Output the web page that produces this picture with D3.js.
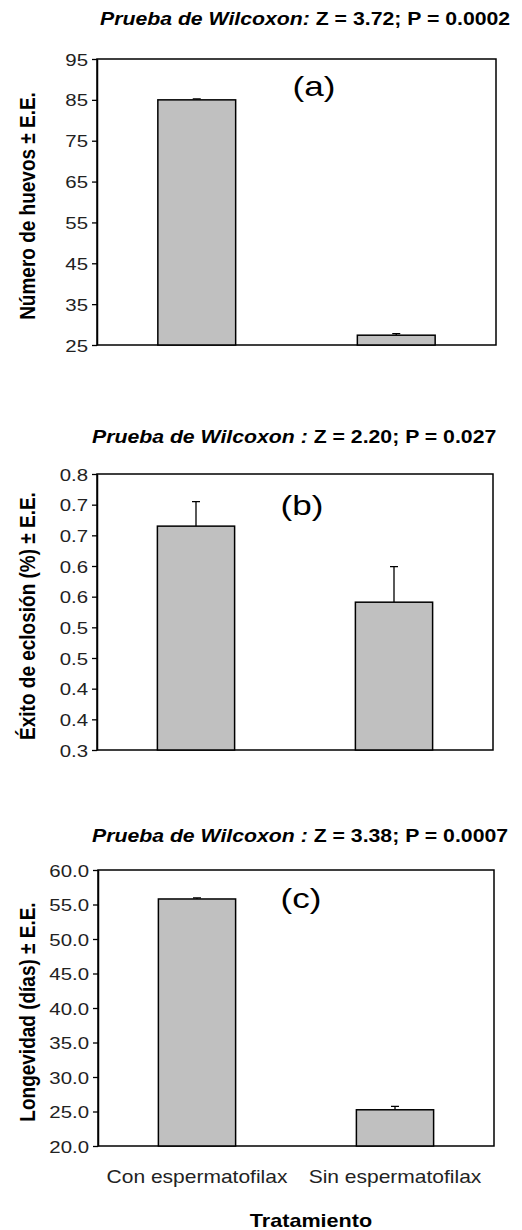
<!DOCTYPE html>
<html>
<head>
<meta charset="utf-8">
<script src="https://cdn.jsdelivr.net/npm/d3@7"></script>
<style>
  body { margin: 0; background: #fff; }
  svg { display: block; }
  text { font-family: "Liberation Sans", Arial, sans-serif; }
</style>
</head>
<body>
<svg id="chart" width="522" height="1230"></svg>
<script>
// data
const categories = ['Con espermatofilax', 'Sin espermatofilax'];

const huevosMean = [85.0, 27.4];
const huevosSE = [0.25, 0.4];
const huevosTicks = [25, 35, 45, 55, 65, 75, 85, 95];
const huevosTickLabels = ['25', '35', '45', '55', '65', '75', '85', '95'];

const eclosionMean = [0.665, 0.541];
const eclosionSE = [0.04, 0.058];
const eclosionTicks = [0.30, 0.35, 0.40, 0.45, 0.50, 0.55, 0.60, 0.65, 0.70, 0.75];
const eclosionTickLabels = ['0.3', '0.4', '0.4', '0.5', '0.5', '0.6', '0.6', '0.7', '0.7', '0.8'];

const longevidadMean = [55.8, 25.25];
const longevidadSE = [0.15, 0.5];
const longevidadTicks = [20, 25, 30, 35, 40, 45, 50, 55, 60];
const longevidadTickLabels = ['20.0', '25.0', '30.0', '35.0', '40.0', '45.0', '50.0', '55.0', '60.0'];

const SX = 1.2; // the original figure is a bit wider than tall

const svg = d3.select('#chart');

const panels = [
  {
    test: ['Prueba de Wilcoxon:', ' Z = 3.72; P = 0.0002'], titleX: 100, titleY: 25,
    tag: '(a)', tagX: 314, tagY: 96,
    ylabel: 'Número de huevos ± E.E.',
    mean: huevosMean, se: huevosSE, ticks: huevosTicks, tickLabels: huevosTickLabels,
    box: { left: 97, right: 496, top: 59, bottom: 345 }
  },
  {
    test: ['Prueba de Wilcoxon :', ' Z = 2.20; P = 0.027'], titleX: 92, titleY: 443,
    tag: '(b)', tagX: 302, tagY: 515,
    ylabel: 'Éxito de eclosión  (%) ± E.E.',
    mean: eclosionMean, se: eclosionSE, ticks: eclosionTicks, tickLabels: eclosionTickLabels,
    box: { left: 97, right: 493, top: 474, bottom: 750 }
  },
  {
    test: ['Prueba de Wilcoxon :', ' Z = 3.38; P = 0.0007'], titleX: 92, titleY: 842,
    tag: '(c)', tagX: 301, tagY: 908,
    ylabel: 'Longevidad (días) ± E.E.',
    mean: longevidadMean, se: longevidadSE, ticks: longevidadTicks, tickLabels: longevidadTickLabels,
    box: { left: 98, right: 494, top: 870, bottom: 1146 },
    showX: true
  }
];

const stretched = (g, x, y, str, size, weight, anchor) =>
  g.append('text')
    .attr('transform', `translate(${x},${y}) scale(${SX},1)`)
    .attr('text-anchor', anchor)
    .style('font-size', size + 'px')
    .style('font-weight', weight)
    .text(str);

panels.forEach(p => {
  const g = svg.append('g');
  const b = p.box;

  const x = d3.scaleBand()
    .domain(categories)
    .range([b.left, b.right])
    .paddingInner(0.61)
    .paddingOuter(0.305);

  const y = d3.scaleLinear()
    .domain([p.ticks[0], p.ticks[p.ticks.length - 1]])
    .range([b.bottom, b.top]);

  // title: italic name, upright statistics
  const t = g.append('text')
    .attr('transform', `translate(${p.titleX},${p.titleY}) scale(${SX},1)`)
    .style('font-size', '17.7px')
    .style('font-weight', 'bold');
  t.append('tspan').style('font-style', 'italic').text(p.test[0]);
  t.append('tspan').text(p.test[1]);

  // plot frame
  g.append('rect')
    .attr('x', b.left)
    .attr('y', b.top)
    .attr('width', b.right - b.left)
    .attr('height', b.bottom - b.top)
    .attr('fill', 'none')
    .attr('stroke', '#000')
    .attr('stroke-width', 1.5);

  // bars
  const rows = categories.map((c, i) => ({ c, m: p.mean[i], se: p.se[i] }));

  g.selectAll('.err')
    .data(rows)
    .join('path')
    .attr('class', 'err')
    .attr('fill', 'none')
    .attr('stroke', '#000')
    .attr('stroke-width', 1.3)
    .attr('d', d => {
      const cx = x(d.c) + x.bandwidth() / 2;
      return `M${cx},${y(d.m)}V${y(d.m + d.se)}M${cx - 4},${y(d.m + d.se)}H${cx + 4}`;
    });

  g.selectAll('.bar')
    .data(rows)
    .join('rect')
    .attr('class', 'bar')
    .attr('x', d => x(d.c))
    .attr('y', d => y(d.m))
    .attr('width', x.bandwidth())
    .attr('height', d => y(p.ticks[0]) - y(d.m))
    .attr('fill', '#c0c0c0')
    .attr('stroke', '#000')
    .attr('stroke-width', 1.5);

  // y axis
  const ya = g.append('g')
    .attr('transform', `translate(${b.left},0)`)
    .call(d3.axisLeft(y)
      .tickValues(p.ticks)
      .tickFormat((d, i) => p.tickLabels[i])
      .tickSize(5)
      .tickSizeOuter(0));
  ya.select('.domain').attr('stroke', '#000').attr('stroke-width', 1.5);
  ya.selectAll('.tick line').attr('stroke', '#000').attr('stroke-width', 1.3);
  ya.selectAll('.tick text')
    .attr('x', 0)
    .attr('dy', null)
    .attr('transform', `translate(-9,6) scale(${SX},1)`)
    .attr('fill', '#222')
    .style('font-size', '17px')
    .style('font-family', '"Liberation Sans", Arial, sans-serif');

  // y label
  g.append('text')
    .attr('transform', `translate(35,${(b.top + b.bottom) / 2 + 4}) rotate(-90) scale(1,1.12)`)
    .attr('text-anchor', 'middle')
    .style('font-size', '19px')
    .style('font-weight', 'bold')
    .text(p.ylabel);

  // panel tag
  g.append('text')
    .attr('transform', `translate(${p.tagX},${p.tagY}) scale(1.3,1)`)
    .attr('text-anchor', 'middle')
    .style('font-size', '27px')
    .text(p.tag);

  if (p.showX) {
    categories.forEach(c => {
      stretched(g, x(c) + x.bandwidth() / 2, b.bottom + 37, c, 17.5, 'normal', 'middle')
        .attr('fill', '#222');
    });
    stretched(g, (b.left + b.right) / 2 + 15, 1227, 'Tratamiento', 18, 'bold', 'middle');
  }
});
</script>
</body>
</html>
